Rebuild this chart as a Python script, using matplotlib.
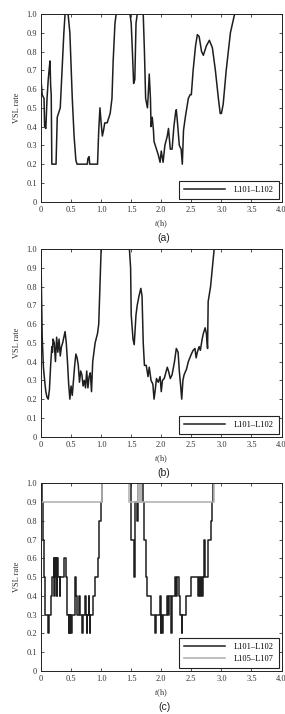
import numpy as np
import matplotlib
matplotlib.use('Agg')
import matplotlib.pyplot as plt

# 基本設定
plt.rcParams['font.family'] = ['Liberation Serif', 'DejaVu Serif']
plt.rcParams['mathtext.fontset'] = 'custom'
plt.rcParams['mathtext.it'] = 'Liberation Serif:italic'
plt.rcParams['mathtext.rm'] = 'Liberation Serif'

# (a) L101–L102
t_a = [0.0, 0.02, 0.05, 0.06, 0.08, 0.10, 0.12, 0.14, 0.15, 0.16, 0.17, 0.18, 0.25,
       0.27, 0.30, 0.32, 0.35, 0.38, 0.40, 0.45, 0.48, 0.52, 0.55, 0.58, 0.60, 0.77,
       0.78, 0.80, 0.81, 0.94, 0.96, 0.98, 1.00, 1.02, 1.04, 1.06, 1.10, 1.15, 1.18,
       1.20, 1.23, 1.25, 1.48, 1.50, 1.52, 1.54, 1.56, 1.58, 1.60, 1.70, 1.72, 1.74,
       1.77, 1.78, 1.80, 1.82, 1.83, 1.85, 1.87, 1.88, 1.90, 1.93, 1.95, 1.98, 2.00,
       2.03, 2.06, 2.10, 2.12, 2.15, 2.18, 2.21, 2.24, 2.25, 2.27, 2.30, 2.33, 2.35,
       2.37, 2.40, 2.45, 2.48, 2.50, 2.53, 2.57, 2.60, 2.63, 2.67, 2.70, 2.75, 2.80,
       2.85, 2.90, 2.95, 2.98, 3.00, 3.03, 3.08, 3.15, 3.22, 4.0]
v_a = [0.65, 0.57, 0.55, 0.40, 0.39, 0.55, 0.65, 0.72, 0.75, 0.62, 0.57, 0.20, 0.20,
       0.45, 0.48, 0.50, 0.70, 0.90, 1.0, 1.0, 0.90, 0.55, 0.35, 0.22, 0.20, 0.20,
       0.23, 0.24, 0.20, 0.20, 0.38, 0.50, 0.42, 0.35, 0.38, 0.42, 0.42, 0.47, 0.55,
       0.75, 0.95, 1.0, 1.0, 0.95, 0.80, 0.63, 0.65, 0.95, 1.0, 1.0, 0.80, 0.55,
       0.50, 0.55, 0.68, 0.55, 0.40, 0.45, 0.38, 0.32, 0.30, 0.27, 0.25, 0.21, 0.27,
       0.21, 0.30, 0.35, 0.39, 0.28, 0.28, 0.40, 0.48, 0.49, 0.42, 0.30, 0.28, 0.20,
       0.38, 0.45, 0.55, 0.57, 0.57, 0.70, 0.83, 0.89, 0.88, 0.80, 0.78, 0.83, 0.86,
       0.82, 0.70, 0.55, 0.47, 0.47, 0.52, 0.70, 0.90, 1.0, 1.0]

# (b) L101–L102
t_b = [0.0, 0.005, 0.02, 0.04, 0.06, 0.08, 0.10, 0.12, 0.14, 0.16, 0.18, 0.19, 0.20,
       0.22, 0.24, 0.26, 0.28, 0.30, 0.32, 0.34, 0.36, 0.38, 0.40, 0.42, 0.44, 0.46,
       0.48, 0.50, 0.52, 0.54, 0.56, 0.58, 0.60, 0.62, 0.64, 0.66, 0.68, 0.70, 0.72,
       0.74, 0.76, 0.78, 0.80, 0.82, 0.84, 0.86, 0.90, 0.94, 0.96, 0.98, 1.00, 1.47,
       1.49, 1.50, 1.53, 1.55, 1.58, 1.60, 1.63, 1.66, 1.68, 1.70, 1.72, 1.75, 1.78,
       1.80, 1.83, 1.86, 1.88, 1.90, 1.92, 1.95, 1.98, 2.00, 2.02, 2.05, 2.10, 2.12,
       2.15, 2.18, 2.22, 2.25, 2.28, 2.30, 2.32, 2.34, 2.36, 2.38, 2.42, 2.45, 2.50,
       2.53, 2.56, 2.58, 2.60, 2.63, 2.65, 2.68, 2.70, 2.73, 2.75, 2.77, 2.78, 2.82,
       2.85, 2.88, 4.0]
v_b = [1.0, 0.83, 0.53, 0.37, 0.30, 0.24, 0.21, 0.20, 0.25, 0.38, 0.48, 0.45, 0.52,
       0.50, 0.40, 0.53, 0.45, 0.52, 0.43, 0.48, 0.50, 0.53, 0.56, 0.50, 0.40, 0.28,
       0.20, 0.27, 0.22, 0.30, 0.38, 0.44, 0.42, 0.38, 0.29, 0.35, 0.33, 0.27, 0.30,
       0.26, 0.35, 0.26, 0.32, 0.34, 0.24, 0.40, 0.50, 0.55, 0.60, 0.80, 1.0, 1.0,
       0.90, 0.65, 0.52, 0.49, 0.65, 0.70, 0.75, 0.79, 0.75, 0.50, 0.38, 0.38, 0.32,
       0.37, 0.30, 0.28, 0.20, 0.25, 0.31, 0.29, 0.32, 0.24, 0.30, 0.31, 0.37, 0.35,
       0.31, 0.33, 0.40, 0.47, 0.45, 0.35, 0.28, 0.20, 0.30, 0.33, 0.36, 0.40, 0.44,
       0.46, 0.47, 0.42, 0.45, 0.48, 0.46, 0.52, 0.55, 0.58, 0.55, 0.47, 0.72, 0.80,
       0.90, 1.0, 1.0]

# (c) L101–L102 (階段状)
t_c1 = [0.0, 0.02, 0.04, 0.055, 0.07, 0.12, 0.14, 0.16, 0.18, 0.21, 0.22, 0.23, 0.24,
        0.25, 0.26, 0.27, 0.28, 0.31, 0.32, 0.39, 0.41, 0.44, 0.46, 0.47, 0.48, 0.49,
        0.50, 0.51, 0.56, 0.58, 0.60, 0.64, 0.65, 0.69, 0.70, 0.73, 0.74, 0.76, 0.77,
        0.79, 0.80, 0.81, 0.82, 0.86, 0.90, 0.95, 0.97, 0.99, 1.01, 1.49, 1.50, 1.54,
        1.55, 1.56, 1.60, 1.61, 1.62, 1.69, 1.71, 1.72, 1.74, 1.75, 1.77, 1.83, 1.90,
        1.91, 1.98, 1.99, 2.00, 2.02, 2.03, 2.09, 2.12, 2.13, 2.17, 2.18, 2.23, 2.25,
        2.26, 2.29, 2.31, 2.34, 2.35, 2.41, 2.50, 2.61, 2.62, 2.65, 2.66, 2.68, 2.69,
        2.71, 2.72, 2.73, 2.77, 2.78, 2.82, 2.84, 2.86, 4.0]
v_c1 = [1.0, 0.9, 0.7, 0.5, 0.3, 0.2, 0.3, 0.4, 0.5, 0.6, 0.4, 0.6, 0.5,
        0.6, 0.4, 0.6, 0.5, 0.4, 0.5, 0.6, 0.5, 0.3, 0.2, 0.3, 0.2, 0.3,
        0.2, 0.3, 0.5, 0.4, 0.3, 0.4, 0.3, 0.2, 0.3, 0.4, 0.3, 0.2, 0.3,
        0.4, 0.3, 0.2, 0.3, 0.4, 0.5, 0.6, 0.8, 0.9, 1.0, 0.7, 0.7, 0.6,
        0.5, 0.9, 0.8, 0.9, 1.0, 0.9, 0.8, 0.7, 0.6, 0.5, 0.4, 0.3, 0.2,
        0.3, 0.4, 0.2, 0.3, 0.2, 0.3, 0.4, 0.3, 0.4, 0.2, 0.4, 0.5, 0.4,
        0.5, 0.4, 0.3, 0.2, 0.3, 0.4, 0.5, 0.4, 0.5, 0.4, 0.5, 0.4, 0.5,
        0.7, 0.6, 0.5, 0.5, 0.7, 0.8, 0.9, 1.0, 1.0]

# (c) L105–L107
t_c2 = [0.0, 1.01, 1.47, 1.62, 1.63, 1.64, 1.65, 1.66, 1.67, 2.87, 4.0]
v_c2 = [0.9, 1.0, 0.9, 1.0, 0.9, 1.0, 0.9, 1.0, 0.9, 1.0, 1.0]

x_ticks = [0, 0.5, 1.0, 1.5, 2.0, 2.5, 3.0, 3.5, 4.0]
x_labels = ['0', '0.5', '1.0', '1.5', '2.0', '2.5', '3.0', '3.5', '4.0']
y_ticks = [0, 0.1, 0.2, 0.3, 0.4, 0.5, 0.6, 0.7, 0.8, 0.9, 1.0]
y_labels = ['0', '0.1', '0.2', '0.3', '0.4', '0.5', '0.6', '0.7', '0.8', '0.9', '1.0']
panel_names = ['(a)', '(b)', '(c)']

fig = plt.figure(figsize=(2.85, 7.14), dpi=100)

bottoms = [0.7175, 0.3884, 0.0602]
axes = []
for b in bottoms:
    ax = fig.add_axes([0.1439, b, 0.8439, 0.2629])
    axes.append(ax)

dark = '#1e1e1e'
gray = '#b4b4b4'

axes[0].plot(t_a, v_a, color=dark, lw=1.1, label='L101–L102')
axes[1].plot(t_b, v_b, color=dark, lw=1.1, label='L101–L102')
axes[2].plot(t_c1, v_c1, color=dark, lw=1.1, drawstyle='steps-post', label='L101–L102')
axes[2].plot(t_c2, v_c2, color=gray, lw=1.2, drawstyle='steps-post', label='L105–L107')

for ax, name in zip(axes, panel_names):
    ax.set_xlim(0, 4)
    ax.set_ylim(0, 1)
    ax.set_xticks(x_ticks)
    ax.set_xticklabels(x_labels)
    ax.set_yticks(y_ticks)
    ax.set_yticklabels(y_labels)
    ax.tick_params(direction='in', length=2.5, width=0.6, labelsize=6, pad=3,
                   top=True, right=True, colors='#333333')
    for s in ax.spines.values():
        s.set_linewidth(0.7)
        s.set_color('#222222')
    ax.set_xlabel(r'$t$(h)', fontsize=6, labelpad=3, color='#333333')
    ax.set_ylabel('VSL rate', fontsize=6, labelpad=4, color='#333333')
    leg = ax.legend(loc='lower right', fontsize=6, handlelength=5.0,
                    fancybox=False, framealpha=1, borderaxespad=0.35,
                    handletextpad=1.0, borderpad=0.6)
    leg.get_frame().set_edgecolor('#222222')
    leg.get_frame().set_linewidth(0.8)
    pos = ax.get_position()
    fig.text(pos.x0 + pos.width / 2 + 0.01, pos.y0 - 0.0505, name,
             fontsize=7.5, family=['Liberation Sans', 'DejaVu Sans'],
             ha='center', va='center', color='#222222')

fig.savefig('out.png', dpi=100)
